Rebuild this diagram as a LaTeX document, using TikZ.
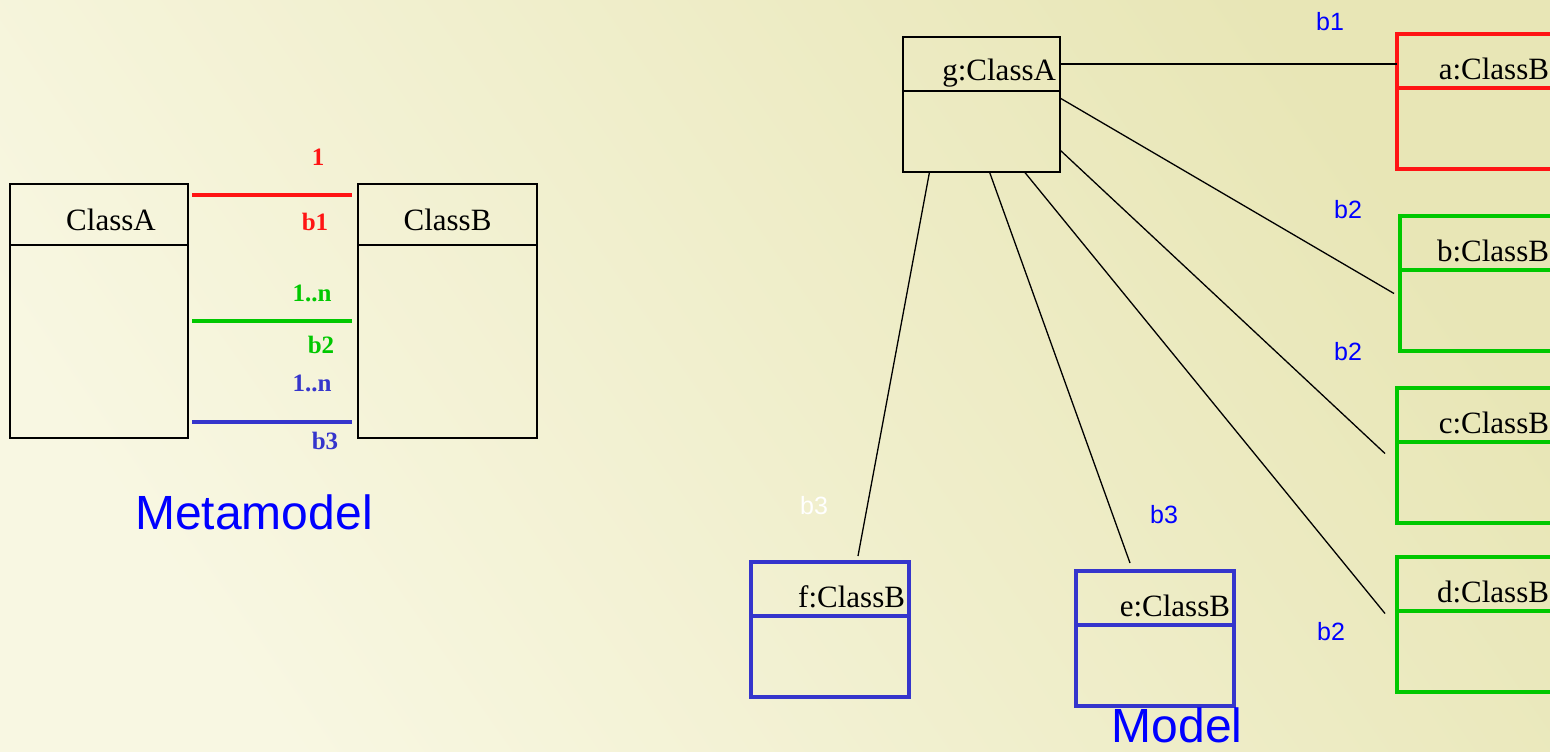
\documentclass[tikz,border=0pt]{standalone}
\usepackage{fontspec}
\setmainfont{Liberation Serif}
\setsansfont{Liberation Sans}
\usetikzlibrary{shapes.multipart}

\definecolor{bgpale}{HTML}{F8F7E2}
\definecolor{bgdeep}{HTML}{E8E6B6}
\definecolor{assocred}{HTML}{FF1414}
\definecolor{assocgreen}{HTML}{00C800}
\definecolor{assocblue}{HTML}{3535CC}
\definecolor{roleblue}{HTML}{0000FF}

% struts for the two compartments of a class box
% (the divider's width is added by the shape itself)
\newcommand{\headstrut}{\rule[-9.5pt]{0pt}{52.5pt}}
\newcommand{\bodystrut}{\rule{0pt}{79.5pt}}
\newcommand{\thickhead}{\rule[-6.5pt]{0pt}{49.5pt}}
\newcommand{\thickbody}{\rule{0pt}{76.5pt}}
\newcommand{\metahead}{\rule[-13.5pt]{0pt}{59.5pt}}
\newcommand{\metabody}{\rule{0pt}{191.5pt}}

\begin{document}
\begin{tikzpicture}[x=1pt, y=-1pt,
  classbox/.style={draw, rectangle split, rectangle split parts=2,
    inner xsep=4pt, inner ysep=0pt, outer sep=0pt, anchor=north west,
    font=\fontsize{31}{36}\selectfont, line width=1.5pt},
  objbox/.style={classbox, minimum width=158pt,
    rectangle split part align={right,center}},
  thickbox/.style={objbox, line width=4.5pt},
  edgebox/.style={thickbox, inner xsep=5pt},
  link/.style={line width=4pt},
  mult/.style={font=\bfseries\fontsize{25}{28}\selectfont},
  role/.style={font=\sffamily\fontsize{25}{28}\selectfont, text=roleblue},
  caption/.style={font=\sffamily\fontsize{48}{54}\selectfont, text=roleblue, inner sep=0pt}
]
\useasboundingbox (0,0) rectangle (1550,752);
\clip (0,0) rectangle (1550,752);
\shade[shading=axis, bottom color=bgpale, top color=bgdeep, shading angle=-55]
  (0,0) rectangle (1550,752);

% metamodel
\node[classbox, minimum width=178pt] (clsA) at (10,184) {\metahead\hspace{24pt}ClassA\nodepart{two}\metabody};
\node[classbox, minimum width=179pt] (clsB) at (358,184) {\metahead ClassB\nodepart{two}\metabody};

\draw[link, assocred] ([shift={(4pt,-11pt)}]clsA.north east) -- ([shift={(-6pt,-11pt)}]clsB.north west);
\draw[link, assocgreen] ([shift={(4pt,-137pt)}]clsA.north east) -- ([shift={(-6pt,-137pt)}]clsB.north west);
\draw[link, assocblue] ([shift={(4pt,-238pt)}]clsA.north east) -- ([shift={(-6pt,-238pt)}]clsB.north west);

\node[mult, text=assocred] (m1) at (318,157) {1};
\node[mult, text=assocred] (r1) at (315,222) {b1};
\node[mult, text=assocgreen] (m2) at (312,293) {1..n};
\node[mult, text=assocgreen] (r2) at (321,345) {b2};
\node[mult, text=assocblue] (m3) at (312,383) {1..n};
\node[mult, text=assocblue] (r3) at (325,441) {b3};

\node[caption] (meta) at (254,512) {Metamodel};

% model
\node[objbox, minimum width=157pt] (g) at (903,37) {\headstrut g:ClassA\nodepart{two}\bodystrut};
\node[edgebox, assocred, minimum width=157pt] (a) at (1397,34) {\thickhead\textcolor{black}{a:ClassB}\nodepart{two}\thickbody};
\node[edgebox, assocgreen, minimum width=154pt] (b) at (1400,216) {\thickhead\textcolor{black}{b:ClassB}\nodepart{two}\thickbody};
\node[edgebox, assocgreen, minimum width=157pt] (c) at (1397,388) {\thickhead\textcolor{black}{c:ClassB}\nodepart{two}\thickbody};
\node[edgebox, assocgreen, minimum width=157pt] (d) at (1397,557) {\thickhead\textcolor{black}{d:ClassB}\nodepart{two}\thickbody};
\node[thickbox, assocblue] (e) at (1076,571) {\thickhead\textcolor{black}{e:ClassB}\nodepart{two}\thickbody};
\node[thickbox, assocblue] (f) at (751,562) {\thickhead\textcolor{black}{f:ClassB}\nodepart{two}\thickbody};

\draw[line width=1.3pt] ([yshift=-27pt]g.north east) -- ([yshift=-30pt]a.north west);
\draw[line width=1.3pt] ([yshift=-61pt]g.north east) -- ([shift={(-6pt,-10pt)}]b.west);
\draw[line width=1.3pt] ([yshift=22pt]g.south east) -- ([shift={(-12pt,2pt)}]c.west);
\draw[line width=1.3pt] ([xshift=43pt]g.south) -- ([shift={(-12pt,11pt)}]d.west);
\draw[line width=1.3pt] ([xshift=8pt]g.south) -- ([shift={(-25pt,8pt)}]e.north);
\draw[line width=1.3pt] ([xshift=-52pt]g.south) -- ([shift={(28pt,6pt)}]f.north);

\node[role] (ra) at (1330,22) {b1};
\node[role] (rb) at (1348,210) {b2};
\node[role] (rc) at (1348,352) {b2};
\node[role] (rd) at (1331,632) {b2};
\node[role] (re) at (1164,515) {b3};
\node[role, text=white] (rf) at (814,506) {b3};

\node[caption] (model) at (1177,725) {Model};
\end{tikzpicture}
\end{document}
